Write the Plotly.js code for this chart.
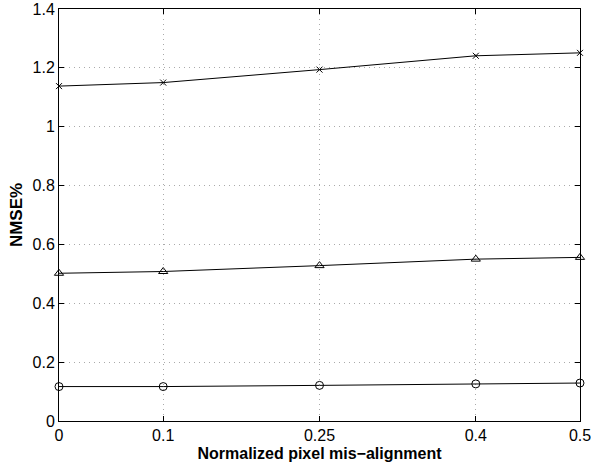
<!DOCTYPE html>
<html>
<head>
<meta charset="utf-8">
<script src="https://cdn.plot.ly/plotly-3.0.1.min.js"></script>
<style>html,body{margin:0;padding:0;background:#fff;}#chart{width:591px;height:470px;}</style>
</head>
<body>
<div id="chart"></div>
<script>
const xValues = [0, 0.1, 0.25, 0.4, 0.5];
const xTickLabels = ['0', '0.1', '0.25', '0.4', '0.5'];
const seriesCross = [1.138, 1.150, 1.194, 1.241, 1.251];
const seriesTriangle = [0.502, 0.508, 0.528, 0.550, 0.556];
const seriesCircle = [0.117, 0.117, 0.121, 0.126, 0.129];
const yTicks = [0, 0.2, 0.4, 0.6, 0.8, 1, 1.2, 1.4];

const mk = (y, symbol, size) => ({
  x: xValues, y: y, type: 'scatter', mode: 'lines+markers',
  line: {color: '#000', width: 1},
  marker: {symbol: symbol, size: size, color: '#000', line: {color: '#000', width: 1}},
  showlegend: false, cliponaxis: false
});

const data = [
  mk(seriesCross, 'x-thin-open', 6),
  mk(seriesTriangle, 'triangle-up-open', 8),
  mk(seriesCircle, 'circle-open', 8)
];

const axisCommon = {
  showline: true, linecolor: '#000', linewidth: 1, mirror: 'ticks',
  ticks: 'inside', ticklen: 5, tickcolor: '#000', tickwidth: 1,
  showgrid: true, gridcolor: '#aaa', griddash: '1px,4px', gridwidth: 1,
  zeroline: false, ticklabeloverflow: 'allow',
  tickfont: {family: 'Liberation Sans, Arial, sans-serif', size: 16, color: '#000'}
};

const layout = {
  width: 591, height: 470,
  margin: {l: 59, r: 11, t: 9, b: 49},
  paper_bgcolor: '#fff', plot_bgcolor: '#fff',
  xaxis: Object.assign({}, axisCommon, {
    range: [0, 0.5], tickmode: 'array', tickvals: xValues, ticktext: xTickLabels,
    title: {text: 'Normalized pixel mis\u2212alignment', standoff: 4,
      font: {family: 'Liberation Sans, Arial, sans-serif', size: 16, color: '#000', weight: 'bold'}}
  }),
  yaxis: Object.assign({}, axisCommon, {
    range: [0, 1.4], tickmode: 'array', tickvals: yTicks,
    ticktext: yTicks.map(v => String(v)),
    title: {text: 'NMSE%', standoff: 5,
      font: {family: 'Liberation Sans, Arial, sans-serif', size: 17, color: '#000', weight: 'bold'}}
  })
};

Plotly.newPlot('chart', data, layout, {displayModeBar: false, staticPlot: true});
</script>
</body>
</html>
